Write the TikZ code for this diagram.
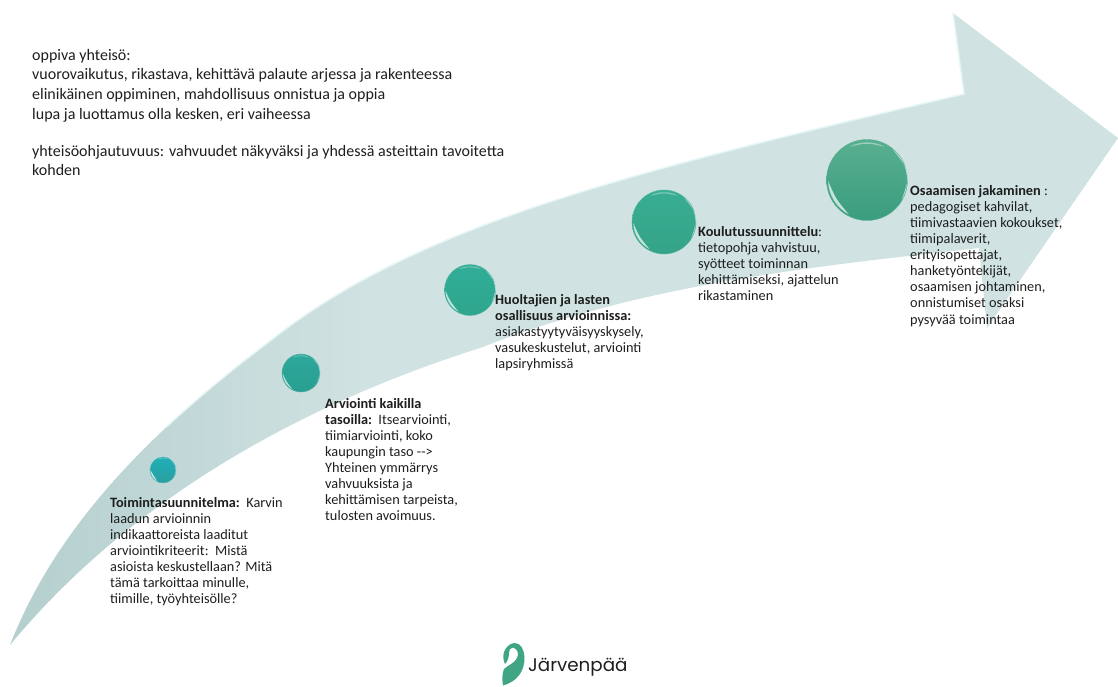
\documentclass[tikz,border=0pt]{standalone}
\usepackage{fontspec}
\setmainfont{Carlito}
\newfontfamily\logofont{Poppins}
\definecolor{ink}{HTML}{1E1E1E}
\definecolor{bandA}{HTML}{B6D0D0}
\definecolor{bandB}{HTML}{D0E2E1}
\definecolor{glow}{HTML}{E6F5F5}
\definecolor{leaf}{HTML}{3FA585}
\definecolor{oa}{HTML}{1FB0B8}\definecolor{ob}{HTML}{2A9EA0}
\definecolor{oc}{HTML}{2CA89C}\definecolor{od}{HTML}{2A9F90}
\definecolor{oe}{HTML}{30AD98}\definecolor{of}{HTML}{2FA68C}
\definecolor{og}{HTML}{38AE92}\definecolor{oh}{HTML}{35A388}
\definecolor{oi}{HTML}{58AF90}\definecolor{oj}{HTML}{3A9D7E}
\pgfdeclarehorizontalshading{bandshade}{100bp}{color(0bp)=(bandA); color(26bp)=(bandA); color(41bp)=(bandB); color(100bp)=(bandB)}
\tikzset{
  big/.style={anchor=north west,inner sep=0pt,align=left,text=ink,font=\fontsize{16}{19.6}\selectfont},
  small/.style={anchor=north west,inner sep=0pt,align=left,text=ink,font=\fontsize{14.3}{16.1}\selectfont},
}
\newcommand{\orb}[6]{% name,x,y,r,top,bottom  (y axis points down, so angles are mirrored)
  \node[circle,inner sep=0pt,minimum size=#4*2pt,top color=#5,bottom color=#6,draw=#6!80!white,line width=0.4pt] (#1) at (#2,#3) {};
  \begin{scope}[shift={(#2,#3)}]
    \fill[white,opacity=.7] (178:#4*.96) arc[start angle=178,end angle=118,radius=#4*.96] .. controls (148:#4*.9) .. cycle;
    \fill[white,opacity=.4] (-62:#4*.93) arc[start angle=-62,end angle=-118,radius=#4*.93] .. controls (-90:#4*.92) .. cycle;
    \fill[glow,opacity=.7] (30:#4*.99) arc[start angle=30,end angle=-50,radius=#4*.99] .. controls (-10:#4*1.1) .. cycle;
  \end{scope}
}
\begin{document}
\begin{tikzpicture}[x=1pt,y=-1pt]
\useasboundingbox (0,0) rectangle (1118,686);
\shade[shading=bandshade,shading angle=0]
  (10,645) .. controls (55,530) and (145,435) .. (270,341)
  .. controls (420,222) and (640,170) .. (964,94)
  -- (953,13) -- (1118,138) -- (987,328) -- (979,248)
  .. controls (800,268) and (640,285) .. (480,348)
  .. controls (300,405) and (130,500) .. (10,645) -- cycle;
\draw[glow,line width=1.5pt]
  (167,426.4) .. controls (198.2,397.5) and (232.5,369.2) .. (270,341)
  .. controls (420,222) and (640,170) .. (964,94) -- (953,13);
\orb{o1}{163}{470}{13}{oa}{ob}
\orb{o2}{301}{373}{19}{oc}{od}
\orb{o3}{470}{290}{25.5}{oe}{of}
\orb{o4}{664}{222}{32}{og}{oh}
\orb{o5}{867}{180}{40.5}{oi}{oj}
\node[big] (intro) at (32,49) {oppiva yhteisö:\\
vuorovaikutus, rikastava, kehittävä palaute arjessa ja rakenteessa\\
elinikäinen oppiminen, mahdollisuus onnistua ja oppia\\
lupa ja luottamus olla kesken, eri vaiheessa\\[17.4pt]
yhteisöohjautuvuus: vahvuudet näkyväksi ja yhdessä asteittain tavoitetta\\
kohden};
\node[small] (t1) at (110,497) {\textbf{Toimintasuunnitelma:}\ \ Karvin\\
laadun arvioinnin\\
indikaattoreista laaditut\\
arviointikriteerit:\ \ Mistä\\
asioista keskustellaan? Mitä\\
tämä tarkoittaa minulle,\\
tiimille, työyhteisölle?};
\node[small] (t2) at (325,398) {\textbf{Arviointi kaikilla}\\
\textbf{tasoilla:}\ \ Itsearviointi,\\
tiimiarviointi, koko\\
kaupungin taso -{}->\\
Yhteinen ymmärrys\\
vahvuuksista ja\\
kehittämisen tarpeista,\\
tulosten avoimuus.};
\node[small] (t3) at (495,294) {\textbf{Huoltajien ja lasten}\\
\textbf{osallisuus arvioinnissa:}\\
asiakastyytyväisyyskysely,\\
vasukeskustelut, arviointi\\
lapsiryhmissä};
\node[small] (t4) at (698,226) {\textbf{Koulutussuunnittelu}:\\
tietopohja vahvistuu,\\
syötteet toiminnan\\
kehittämiseksi, ajattelun\\
rikastaminen};
\node[small] (t5) at (910,185) {\textbf{Osaamisen jakaminen}\ :\\
pedagogiset kahvilat,\\
tiimivastaavien kokoukset,\\
tiimipalaverit,\\
erityisopettajat,\\
hanketyöntekijät,\\
osaamisen johtaminen,\\
onnistumiset osaksi\\
pysyvää toimintaa};
\fill[leaf] (503,685.5) .. controls (502,679) and (502,674) .. (504,669)
  .. controls (508,665) and (515,663) .. (517,658)
  .. controls (519,654) and (518,649) .. (513,647.5)
  .. controls (510,647.5) and (509,650) .. (509,653)
  .. controls (509,657) and (508,661) .. (505,664)
  .. controls (503,660) and (503,656) .. (504,652)
  .. controls (506,646) and (511,643) .. (515,643)
  .. controls (521,643) and (524,650) .. (524.5,657)
  .. controls (525,672) and (516,682) .. (503,685.5) -- cycle;
\node[anchor=base west,inner sep=0pt,text=ink,font=\logofont\fontsize{18.3}{19}\selectfont] (logo) at (528,671) {Järvenpää};
\end{tikzpicture}
\end{document}
